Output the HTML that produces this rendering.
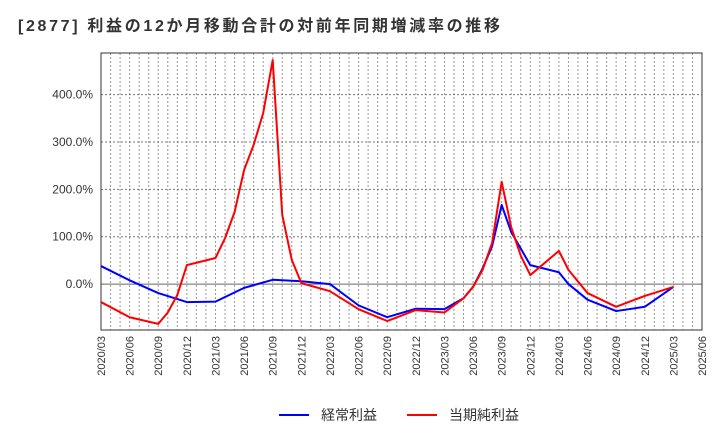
<!DOCTYPE html>
<html><head><meta charset="utf-8"><style>
body{margin:0;background:#fff;font-family:"Liberation Sans","Noto Sans CJK JP",sans-serif}
</style></head><body>
<svg id="c" width="720" height="440" xmlns="http://www.w3.org/2000/svg"></svg>
<script>
const xLabels=["2020/03","2020/06","2020/09","2020/12","2021/03","2021/06","2021/09","2021/12","2022/03","2022/06","2022/09","2022/12","2023/03","2023/06","2023/09","2023/12","2024/03","2024/06","2024/09","2024/12","2025/03","2025/06"];
const yTicks=[0,100,200,300,400];
const blueMonths=[0,3,6,9,12,15,18,21,24,27,30,33,36,38,39,40,41,42,43,45,48,49,51,54,57,60];
const blueValues=[38,8,-19,-38,-37,-8,9,6,0,-45,-70,-52,-53,-30,-6,33,80,167,110,40,25,0,-33,-57,-48,-6];
const redMonths=[0,3,6,7,8,9,12,13,14,15,16,17,18,19,20,21,24,27,30,33,36,38,39,40,41,42,43,44,45,48,49,51,54,57,60];
const redValues=[-38,-70,-84,-60,-23,40,55,97,152,241,294,361,473,146,51,2,-15,-53,-78,-55,-60,-30,-6,30,87,216,120,60,19,70,30,-19,-48,-25,-6];
const L=101,R=702,T=53,B=330,yMin=-97,yMax=488;
const xs=m=>L+(R-L)*m/63;
const ys=v=>B-(v-yMin)/(yMax-yMin)*(B-T);
const svg=document.getElementById('c');
const NS='http://www.w3.org/2000/svg';
function mk(t,a,p){const e=document.createElementNS(NS,t);for(const k in a)e.setAttribute(k,a[k]);(p||svg).appendChild(e);return e;}
let t=mk('text',{x:18,y:31,'font-size':16,'font-weight':'bold',fill:'#333',textLength:482,lengthAdjust:'spacing'});t.textContent='[2877]  利益の12か月移動合計の対前年同期増減率の推移';

const grid=mk('g',{});
for(let m=1;m<63;m++)mk('line',{x1:xs(m),x2:xs(m),y1:T,y2:B,stroke:'#999','stroke-dasharray':'2,2','stroke-width':1},grid);
yTicks.forEach(v=>{mk('line',{x1:L,x2:R,y1:ys(v),y2:ys(v),stroke:v===0?'#666':'#777','stroke-dasharray':v===0?'none':'2,2','stroke-width':1},grid);
 const tx=mk('text',{x:L-8,y:ys(v)+4,'font-size':12,'text-anchor':'end',fill:'#333'});tx.textContent=v.toFixed(1)+'%';
 });
xLabels.forEach((s,i)=>{const x=xs(i*3);const tx=mk('text',{x:x+4,y:B+6,'font-size':11,'text-anchor':'end',fill:'#333',transform:`rotate(-90 ${x+4} ${B+6})`});tx.textContent=s;
 });
const fr=mk('rect',{x:L,y:T,width:R-L,height:B-T,fill:'none',stroke:'#333'});
function line(ms,vs,c,name){const p=mk('polyline',{points:ms.map((m,i)=>xs(m)+','+ys(vs[i])).join(' '),fill:'none',stroke:c,'stroke-width':2,'stroke-linejoin':'round'});
 }
line(blueMonths,blueValues,'#0000ff','series-ordinary-profit');
line(redMonths,redValues,'#ff0000','series-net-profit');
const lg=mk('g',{});
mk('line',{x1:279,x2:309,y1:415,y2:415,stroke:'#0000ff','stroke-width':2},lg);
let a=mk('text',{x:321,y:420,'font-size':14,fill:'#333'},lg);a.textContent='経常利益';
mk('line',{x1:407,x2:437,y1:415,y2:415,stroke:'#ff0000','stroke-width':2},lg);
a=mk('text',{x:449,y:420,'font-size':14,fill:'#333'},lg);a.textContent='当期純利益';
</script>
</body></html>
